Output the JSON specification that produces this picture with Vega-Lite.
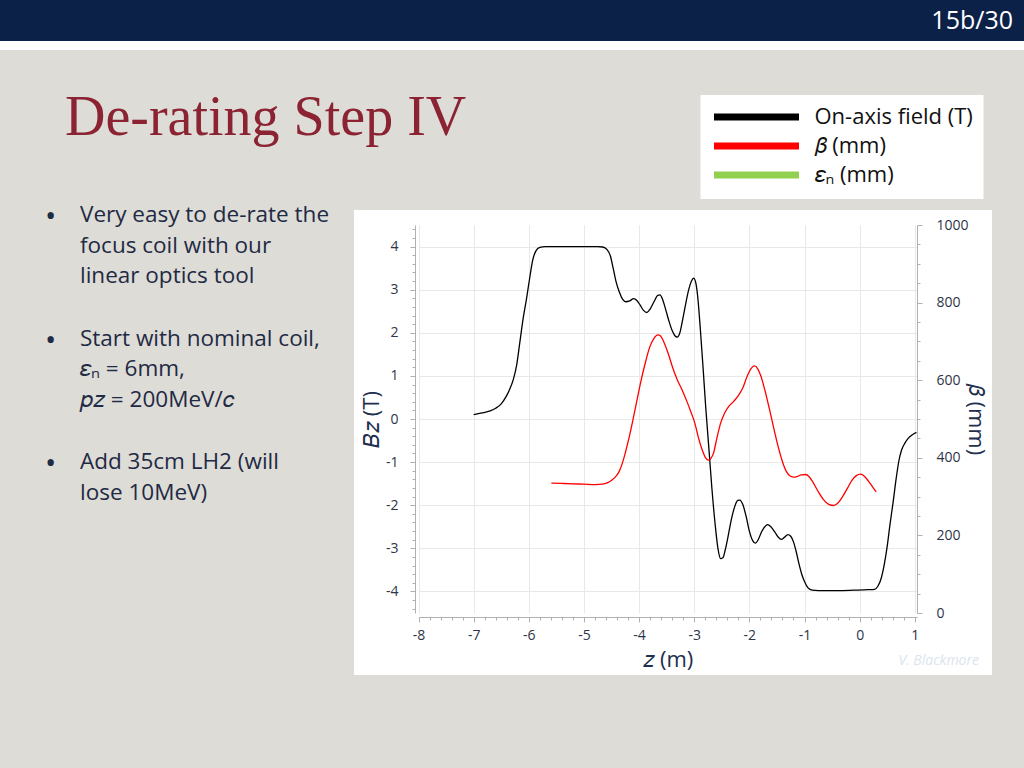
{
  "$schema": "https://vega.github.io/schema/vega-lite/v6.json",
  "background": "#dddcd7",
  "padding": 0,
  "spacing": 0,
  "bounds": "flush",
  "config": {"view": {"stroke": null}, "font": "Open Sans"},
  "vconcat": [
    {
      "width": 1024, "height": 41,
      "view": {"fill": "#0c2148", "stroke": null},
      "data": {"values": [{"page": "15b/30"}]},
      "mark": {"type": "text", "align": "right", "baseline": "middle", "dx": -11, "fontSize": 25, "font": "Open Sans", "color": "#ffffff"},
      "encoding": {
        "text": {"field": "page", "type": "nominal"},
        "x": {"datum": 1, "type": "quantitative", "scale": {"domain": [0, 1]}, "axis": null}
      }
    },
    {
      "width": 1024, "height": 9,
      "view": {"fill": "#ffffff", "stroke": null},
      "data": {"values": []},
      "mark": "text",
      "encoding": {}
    },
    {
      "width": 1024, "height": 160,
      "data": {"values": []},
      "mark": "text",
      "encoding": {}
    },
    {
      "spacing": 24,
      "bounds": "flush",
      "hconcat": [
        {
          "width": 330, "height": 558,
          "view": {"fill": "#dddcd7", "stroke": null},
          "title": {"text": "De-rating Step IV", "anchor": "start", "frame": "group", "baseline": "alphabetic", "offset": 11, "dx": 65, "font": "Liberation Serif", "fontSize": 56, "fontWeight": "normal", "color": "#8b2332"},
          "data": {"values": [
            {"item": 1, "lines": ["Very easy to de-rate the", "focus coil with our", "linear optics tool"]},
            {"item": 2, "lines": ["Start with nominal coil,", "𝜀ₙ = 6mm,", "𝑝𝑧 = 200MeV/𝑐"]},
            {"item": 3, "lines": ["Add 35cm LH2 (will", "lose 10MeV)"]}
          ]},
          "encoding": {
            "y": {"field": "item", "type": "ordinal", "axis": null, "scale": {"type": "point", "padding": 0, "range": [0, 247]}},
            "x": {"datum": 0, "type": "quantitative", "scale": {"domain": [0, 1]}, "axis": null}
          },
          "layer": [
            {"mark": {"type": "text", "text": "•", "align": "left", "baseline": "middle", "dx": 45, "dy": 7, "fontSize": 30, "font": "Open Sans", "color": "#1f2a44"}},
            {"mark": {"type": "text", "align": "left", "baseline": "top", "dx": 80, "dy": -6, "fontSize": 22.5, "lineHeight": 30.5, "font": "Open Sans", "color": "#1f2a44"},
             "encoding": {"text": {"field": "lines", "type": "nominal"}}}
          ]
        },
        {
          "width": 638, "height": 465,
          "view": {"fill": "#ffffff", "stroke": null},
          "title": {"text": "V. Blackmore", "orient": "bottom", "anchor": "end", "frame": "group", "baseline": "top", "offset": -21, "dx": -13, "font": "Open Sans", "fontSize": 14, "fontStyle": "italic", "fontWeight": "normal", "color": "#dbe4ef"},
          "data": {"values": [
            {"series": "On-axis field (T)", "z": -7.00, "value": 0.10},
            {"series": "On-axis field (T)", "z": -6.85, "value": 0.14},
            {"series": "On-axis field (T)", "z": -6.70, "value": 0.19},
            {"series": "On-axis field (T)", "z": -6.60, "value": 0.25},
            {"series": "On-axis field (T)", "z": -6.50, "value": 0.35},
            {"series": "On-axis field (T)", "z": -6.42, "value": 0.50},
            {"series": "On-axis field (T)", "z": -6.35, "value": 0.68},
            {"series": "On-axis field (T)", "z": -6.28, "value": 0.92},
            {"series": "On-axis field (T)", "z": -6.22, "value": 1.25},
            {"series": "On-axis field (T)", "z": -6.16, "value": 1.80},
            {"series": "On-axis field (T)", "z": -6.10, "value": 2.35},
            {"series": "On-axis field (T)", "z": -6.04, "value": 2.80},
            {"series": "On-axis field (T)", "z": -5.98, "value": 3.30},
            {"series": "On-axis field (T)", "z": -5.93, "value": 3.68},
            {"series": "On-axis field (T)", "z": -5.87, "value": 3.90},
            {"series": "On-axis field (T)", "z": -5.80, "value": 3.98},
            {"series": "On-axis field (T)", "z": -5.70, "value": 4.00},
            {"series": "On-axis field (T)", "z": -5.40, "value": 4.00},
            {"series": "On-axis field (T)", "z": -5.00, "value": 4.00},
            {"series": "On-axis field (T)", "z": -4.75, "value": 4.00},
            {"series": "On-axis field (T)", "z": -4.66, "value": 3.99},
            {"series": "On-axis field (T)", "z": -4.58, "value": 3.93},
            {"series": "On-axis field (T)", "z": -4.52, "value": 3.78},
            {"series": "On-axis field (T)", "z": -4.47, "value": 3.50},
            {"series": "On-axis field (T)", "z": -4.42, "value": 3.20},
            {"series": "On-axis field (T)", "z": -4.36, "value": 2.95},
            {"series": "On-axis field (T)", "z": -4.30, "value": 2.78},
            {"series": "On-axis field (T)", "z": -4.24, "value": 2.72},
            {"series": "On-axis field (T)", "z": -4.17, "value": 2.74},
            {"series": "On-axis field (T)", "z": -4.10, "value": 2.79},
            {"series": "On-axis field (T)", "z": -4.04, "value": 2.75},
            {"series": "On-axis field (T)", "z": -3.98, "value": 2.64},
            {"series": "On-axis field (T)", "z": -3.92, "value": 2.52},
            {"series": "On-axis field (T)", "z": -3.86, "value": 2.47},
            {"series": "On-axis field (T)", "z": -3.80, "value": 2.55},
            {"series": "On-axis field (T)", "z": -3.73, "value": 2.72},
            {"series": "On-axis field (T)", "z": -3.66, "value": 2.87},
            {"series": "On-axis field (T)", "z": -3.62, "value": 2.88},
            {"series": "On-axis field (T)", "z": -3.57, "value": 2.76},
            {"series": "On-axis field (T)", "z": -3.52, "value": 2.55},
            {"series": "On-axis field (T)", "z": -3.46, "value": 2.28},
            {"series": "On-axis field (T)", "z": -3.40, "value": 2.05},
            {"series": "On-axis field (T)", "z": -3.35, "value": 1.93},
            {"series": "On-axis field (T)", "z": -3.31, "value": 1.90},
            {"series": "On-axis field (T)", "z": -3.26, "value": 2.00},
            {"series": "On-axis field (T)", "z": -3.21, "value": 2.30},
            {"series": "On-axis field (T)", "z": -3.15, "value": 2.70},
            {"series": "On-axis field (T)", "z": -3.10, "value": 3.00},
            {"series": "On-axis field (T)", "z": -3.05, "value": 3.20},
            {"series": "On-axis field (T)", "z": -3.01, "value": 3.27},
            {"series": "On-axis field (T)", "z": -2.97, "value": 3.15},
            {"series": "On-axis field (T)", "z": -2.93, "value": 2.75},
            {"series": "On-axis field (T)", "z": -2.89, "value": 2.10},
            {"series": "On-axis field (T)", "z": -2.84, "value": 1.20},
            {"series": "On-axis field (T)", "z": -2.79, "value": 0.25},
            {"series": "On-axis field (T)", "z": -2.73, "value": -0.75},
            {"series": "On-axis field (T)", "z": -2.68, "value": -1.60},
            {"series": "On-axis field (T)", "z": -2.62, "value": -2.45},
            {"series": "On-axis field (T)", "z": -2.57, "value": -3.00},
            {"series": "On-axis field (T)", "z": -2.52, "value": -3.24},
            {"series": "On-axis field (T)", "z": -2.48, "value": -3.22},
            {"series": "On-axis field (T)", "z": -2.44, "value": -3.05},
            {"series": "On-axis field (T)", "z": -2.39, "value": -2.75},
            {"series": "On-axis field (T)", "z": -2.33, "value": -2.35},
            {"series": "On-axis field (T)", "z": -2.27, "value": -2.05},
            {"series": "On-axis field (T)", "z": -2.21, "value": -1.89},
            {"series": "On-axis field (T)", "z": -2.17, "value": -1.88},
            {"series": "On-axis field (T)", "z": -2.12, "value": -1.98},
            {"series": "On-axis field (T)", "z": -2.06, "value": -2.25},
            {"series": "On-axis field (T)", "z": -2.00, "value": -2.60},
            {"series": "On-axis field (T)", "z": -1.94, "value": -2.82},
            {"series": "On-axis field (T)", "z": -1.89, "value": -2.88},
            {"series": "On-axis field (T)", "z": -1.84, "value": -2.80},
            {"series": "On-axis field (T)", "z": -1.78, "value": -2.62},
            {"series": "On-axis field (T)", "z": -1.72, "value": -2.50},
            {"series": "On-axis field (T)", "z": -1.67, "value": -2.45},
            {"series": "On-axis field (T)", "z": -1.61, "value": -2.50},
            {"series": "On-axis field (T)", "z": -1.54, "value": -2.62},
            {"series": "On-axis field (T)", "z": -1.47, "value": -2.75},
            {"series": "On-axis field (T)", "z": -1.42, "value": -2.79},
            {"series": "On-axis field (T)", "z": -1.36, "value": -2.74},
            {"series": "On-axis field (T)", "z": -1.30, "value": -2.68},
            {"series": "On-axis field (T)", "z": -1.25, "value": -2.72},
            {"series": "On-axis field (T)", "z": -1.20, "value": -2.85},
            {"series": "On-axis field (T)", "z": -1.15, "value": -3.08},
            {"series": "On-axis field (T)", "z": -1.10, "value": -3.36},
            {"series": "On-axis field (T)", "z": -1.05, "value": -3.60},
            {"series": "On-axis field (T)", "z": -1.00, "value": -3.77},
            {"series": "On-axis field (T)", "z": -0.94, "value": -3.91},
            {"series": "On-axis field (T)", "z": -0.86, "value": -3.97},
            {"series": "On-axis field (T)", "z": -0.75, "value": -3.98},
            {"series": "On-axis field (T)", "z": -0.40, "value": -3.98},
            {"series": "On-axis field (T)", "z": -0.10, "value": -3.97},
            {"series": "On-axis field (T)", "z": 0.15, "value": -3.96},
            {"series": "On-axis field (T)", "z": 0.27, "value": -3.95},
            {"series": "On-axis field (T)", "z": 0.33, "value": -3.88},
            {"series": "On-axis field (T)", "z": 0.39, "value": -3.70},
            {"series": "On-axis field (T)", "z": 0.45, "value": -3.35},
            {"series": "On-axis field (T)", "z": 0.50, "value": -2.95},
            {"series": "On-axis field (T)", "z": 0.55, "value": -2.45},
            {"series": "On-axis field (T)", "z": 0.61, "value": -1.90},
            {"series": "On-axis field (T)", "z": 0.66, "value": -1.40},
            {"series": "On-axis field (T)", "z": 0.71, "value": -0.98},
            {"series": "On-axis field (T)", "z": 0.76, "value": -0.72},
            {"series": "On-axis field (T)", "z": 0.82, "value": -0.56},
            {"series": "On-axis field (T)", "z": 0.88, "value": -0.45},
            {"series": "On-axis field (T)", "z": 0.95, "value": -0.37},
            {"series": "On-axis field (T)", "z": 1.03, "value": -0.31},
            {"series": "𝛽 (mm)", "z": -5.59, "value": 335},
            {"series": "𝛽 (mm)", "z": -5.40, "value": 334},
            {"series": "𝛽 (mm)", "z": -5.20, "value": 333},
            {"series": "𝛽 (mm)", "z": -5.00, "value": 332},
            {"series": "𝛽 (mm)", "z": -4.80, "value": 331},
            {"series": "𝛽 (mm)", "z": -4.66, "value": 332},
            {"series": "𝛽 (mm)", "z": -4.57, "value": 336},
            {"series": "𝛽 (mm)", "z": -4.49, "value": 343},
            {"series": "𝛽 (mm)", "z": -4.42, "value": 352},
            {"series": "𝛽 (mm)", "z": -4.36, "value": 365},
            {"series": "𝛽 (mm)", "z": -4.29, "value": 392},
            {"series": "𝛽 (mm)", "z": -4.21, "value": 435},
            {"series": "𝛽 (mm)", "z": -4.13, "value": 485},
            {"series": "𝛽 (mm)", "z": -4.05, "value": 540},
            {"series": "𝛽 (mm)", "z": -3.97, "value": 595},
            {"series": "𝛽 (mm)", "z": -3.89, "value": 643},
            {"series": "𝛽 (mm)", "z": -3.81, "value": 684},
            {"series": "𝛽 (mm)", "z": -3.73, "value": 708},
            {"series": "𝛽 (mm)", "z": -3.66, "value": 717},
            {"series": "𝛽 (mm)", "z": -3.61, "value": 714},
            {"series": "𝛽 (mm)", "z": -3.55, "value": 698},
            {"series": "𝛽 (mm)", "z": -3.47, "value": 668},
            {"series": "𝛽 (mm)", "z": -3.39, "value": 632},
            {"series": "𝛽 (mm)", "z": -3.31, "value": 602},
            {"series": "𝛽 (mm)", "z": -3.22, "value": 575},
            {"series": "𝛽 (mm)", "z": -3.14, "value": 548},
            {"series": "𝛽 (mm)", "z": -3.06, "value": 518},
            {"series": "𝛽 (mm)", "z": -2.99, "value": 490},
            {"series": "𝛽 (mm)", "z": -2.92, "value": 450},
            {"series": "𝛽 (mm)", "z": -2.85, "value": 418},
            {"series": "𝛽 (mm)", "z": -2.79, "value": 399},
            {"series": "𝛽 (mm)", "z": -2.74, "value": 394},
            {"series": "𝛽 (mm)", "z": -2.70, "value": 398},
            {"series": "𝛽 (mm)", "z": -2.65, "value": 412},
            {"series": "𝛽 (mm)", "z": -2.59, "value": 450},
            {"series": "𝛽 (mm)", "z": -2.52, "value": 490},
            {"series": "𝛽 (mm)", "z": -2.45, "value": 515},
            {"series": "𝛽 (mm)", "z": -2.37, "value": 533},
            {"series": "𝛽 (mm)", "z": -2.28, "value": 546},
            {"series": "𝛽 (mm)", "z": -2.20, "value": 560},
            {"series": "𝛽 (mm)", "z": -2.12, "value": 580},
            {"series": "𝛽 (mm)", "z": -2.04, "value": 610},
            {"series": "𝛽 (mm)", "z": -1.97, "value": 630},
            {"series": "𝛽 (mm)", "z": -1.91, "value": 637},
            {"series": "𝛽 (mm)", "z": -1.85, "value": 630},
            {"series": "𝛽 (mm)", "z": -1.79, "value": 610},
            {"series": "𝛽 (mm)", "z": -1.72, "value": 575},
            {"series": "𝛽 (mm)", "z": -1.64, "value": 528},
            {"series": "𝛽 (mm)", "z": -1.56, "value": 478},
            {"series": "𝛽 (mm)", "z": -1.48, "value": 430},
            {"series": "𝛽 (mm)", "z": -1.40, "value": 390},
            {"series": "𝛽 (mm)", "z": -1.33, "value": 365},
            {"series": "𝛽 (mm)", "z": -1.26, "value": 353},
            {"series": "𝛽 (mm)", "z": -1.19, "value": 350},
            {"series": "𝛽 (mm)", "z": -1.13, "value": 352},
            {"series": "𝛽 (mm)", "z": -1.06, "value": 356},
            {"series": "𝛽 (mm)", "z": -0.98, "value": 357},
            {"series": "𝛽 (mm)", "z": -0.92, "value": 352},
            {"series": "𝛽 (mm)", "z": -0.85, "value": 338},
            {"series": "𝛽 (mm)", "z": -0.76, "value": 315},
            {"series": "𝛽 (mm)", "z": -0.66, "value": 293},
            {"series": "𝛽 (mm)", "z": -0.56, "value": 280},
            {"series": "𝛽 (mm)", "z": -0.47, "value": 277},
            {"series": "𝛽 (mm)", "z": -0.39, "value": 284},
            {"series": "𝛽 (mm)", "z": -0.31, "value": 300},
            {"series": "𝛽 (mm)", "z": -0.22, "value": 322},
            {"series": "𝛽 (mm)", "z": -0.14, "value": 342},
            {"series": "𝛽 (mm)", "z": -0.06, "value": 354},
            {"series": "𝛽 (mm)", "z": 0.02, "value": 358},
            {"series": "𝛽 (mm)", "z": 0.09, "value": 352},
            {"series": "𝛽 (mm)", "z": 0.16, "value": 340},
            {"series": "𝛽 (mm)", "z": 0.23, "value": 326},
            {"series": "𝛽 (mm)", "z": 0.30, "value": 312}
          ]},
          "layer": [
            {
              "transform": [{"filter": "datum.series === 'On-axis field (T)'"}],
              "mark": {"type": "line", "strokeWidth": 1.3, "interpolate": "monotone"},
              "encoding": {
                "x": {"field": "z", "type": "quantitative",
                  "scale": {"domain": [-8, 1.04], "range": [64.5, 563], "nice": false, "zero": false},
                  "axis": {"orient": "bottom", "offset": -58, "grid": false,
                    "values": [-8,-7.8,-7.6,-7.4,-7.2,-7,-6.8,-6.6,-6.4,-6.2,-6,-5.8,-5.6,-5.4,-5.2,-5,-4.8,-4.6,-4.4,-4.2,-4,-3.8,-3.6,-3.4,-3.2,-3,-2.8,-2.6,-2.4,-2.2,-2,-1.8,-1.6,-1.4,-1.2,-1,-0.8,-0.6,-0.4,-0.2,0,0.2,0.4,0.6,0.8,1],
                    "labelExpr": "datum.value % 1 === 0 ? toString(datum.value) : ''",
                    "tickSize": {"condition": {"test": "datum.value % 1 === 0", "value": 5}, "value": 3},
                    "labelOverlap": false, "labelFlush": false,
                    "domainColor": "#b0b0b0", "tickColor": "#b0b0b0",
                    "labelFont": "Open Sans", "labelFontSize": 14, "labelColor": "#2e3548", "labelPadding": 6,
                    "title": "𝑧 (m)", "titleFont": "Open Sans", "titleFontSize": 22, "titleFontWeight": "normal", "titleColor": "#1f2f4f", "titlePadding": 7}},
                "y": {"field": "value", "type": "quantitative",
                  "scale": {"domain": [-4.5, 4.5], "range": [403, 15], "nice": false, "zero": false},
                  "axis": {"orient": "left", "offset": -61,
                    "values": [-4.4,-4.2,-4,-3.8,-3.6,-3.4,-3.2,-3,-2.8,-2.6,-2.4,-2.2,-2,-1.8,-1.6,-1.4,-1.2,-1,-0.8,-0.6,-0.4,-0.2,0,0.2,0.4,0.6,0.8,1,1.2,1.4,1.6,1.8,2,2.2,2.4,2.6,2.8,3,3.2,3.4,3.6,3.8,4,4.2,4.4],
                    "labelExpr": "datum.value % 1 === 0 ? toString(datum.value) : ''",
                    "tickSize": {"condition": {"test": "datum.value % 1 === 0", "value": 5}, "value": 3},
                    "grid": true, "gridColor": "#e8e8e8",
                    "gridOpacity": {"condition": {"test": "datum.value % 1 === 0", "value": 1}, "value": 0},
                    "labelOverlap": false, "labelFlush": false,
                    "domainColor": "#b0b0b0", "tickColor": "#b0b0b0",
                    "labelFont": "Open Sans", "labelFontSize": 14, "labelColor": "#2e3548", "labelPadding": 12,
                    "title": "𝐵𝑧 (T)", "titleFont": "Open Sans", "titleFontSize": 22, "titleFontWeight": "normal", "titleColor": "#1f2f4f", "titlePadding": 2}},
                "color": {"field": "series", "type": "nominal",
                  "scale": {"domain": ["On-axis field (T)", "𝛽 (mm)", "𝜀ₙ (mm)"], "range": ["#000000", "#ff0000", "#92d050"]},
                  "legend": {"orient": "none", "legendX": 700.5, "legendY": 95, "direction": "vertical", "title": null,
                    "symbolType": "M-1,0H9", "symbolSize": 289, "symbolStrokeWidth": 7,
                    "labelFont": "Open Sans", "labelFontSize": 22, "labelColor": "#111111", "labelOffset": 80, "labelLimit": 400,
                    "padding": 10, "rowPadding": 1, "fillColor": "#ffffff",
                    "encode": {"symbols": {"update": {"strokeWidth": {"value": 7}, "opacity": {"value": 1}}}}}}
              }
            },
            {
              "transform": [{"filter": "datum.series === '𝛽 (mm)'"}],
              "mark": {"type": "line", "strokeWidth": 1.3, "interpolate": "monotone"},
              "encoding": {
                "x": {"field": "z", "type": "quantitative",
                  "scale": {"domain": [-8, 1.04], "range": [64.5, 563], "nice": false, "zero": false},
                  "axis": {"orient": "top", "values": [-8,-7,-6,-5,-4,-3,-2,-1,0,1], "grid": true, "gridColor": "#e8e8e8", "labels": false, "ticks": false, "domain": false, "title": null}},
                "y": {"field": "value", "type": "quantitative",
                  "scale": {"domain": [0, 1000], "range": [403, 15], "nice": false, "zero": false},
                  "axis": {"orient": "right", "offset": -75, "grid": false,
                    "values": [0,50,100,150,200,250,300,350,400,450,500,550,600,650,700,750,800,850,900,950,1000],
                    "labelExpr": "datum.value % 200 === 0 ? toString(datum.value) : ''",
                    "tickSize": {"condition": {"test": "datum.value % 200 === 0", "value": 5}, "value": 3},
                    "labelOverlap": false, "labelFlush": false,
                    "domainColor": "#b0b0b0", "tickColor": "#b0b0b0",
                    "labelFont": "Open Sans", "labelFontSize": 14, "labelColor": "#2e3548", "labelPadding": 14,
                    "title": "𝛽 (mm)", "titleFont": "Open Sans", "titleFontSize": 22, "titleFontWeight": "normal", "titleColor": "#1f2f4f", "titlePadding": -5}},
                "color": {"field": "series", "type": "nominal"}
              }
            }
          ],
          "resolve": {"scale": {"x": "independent", "y": "independent"}, "axis": {"x": "independent", "y": "independent"}}
        }
      ]
    }
  ]
}
